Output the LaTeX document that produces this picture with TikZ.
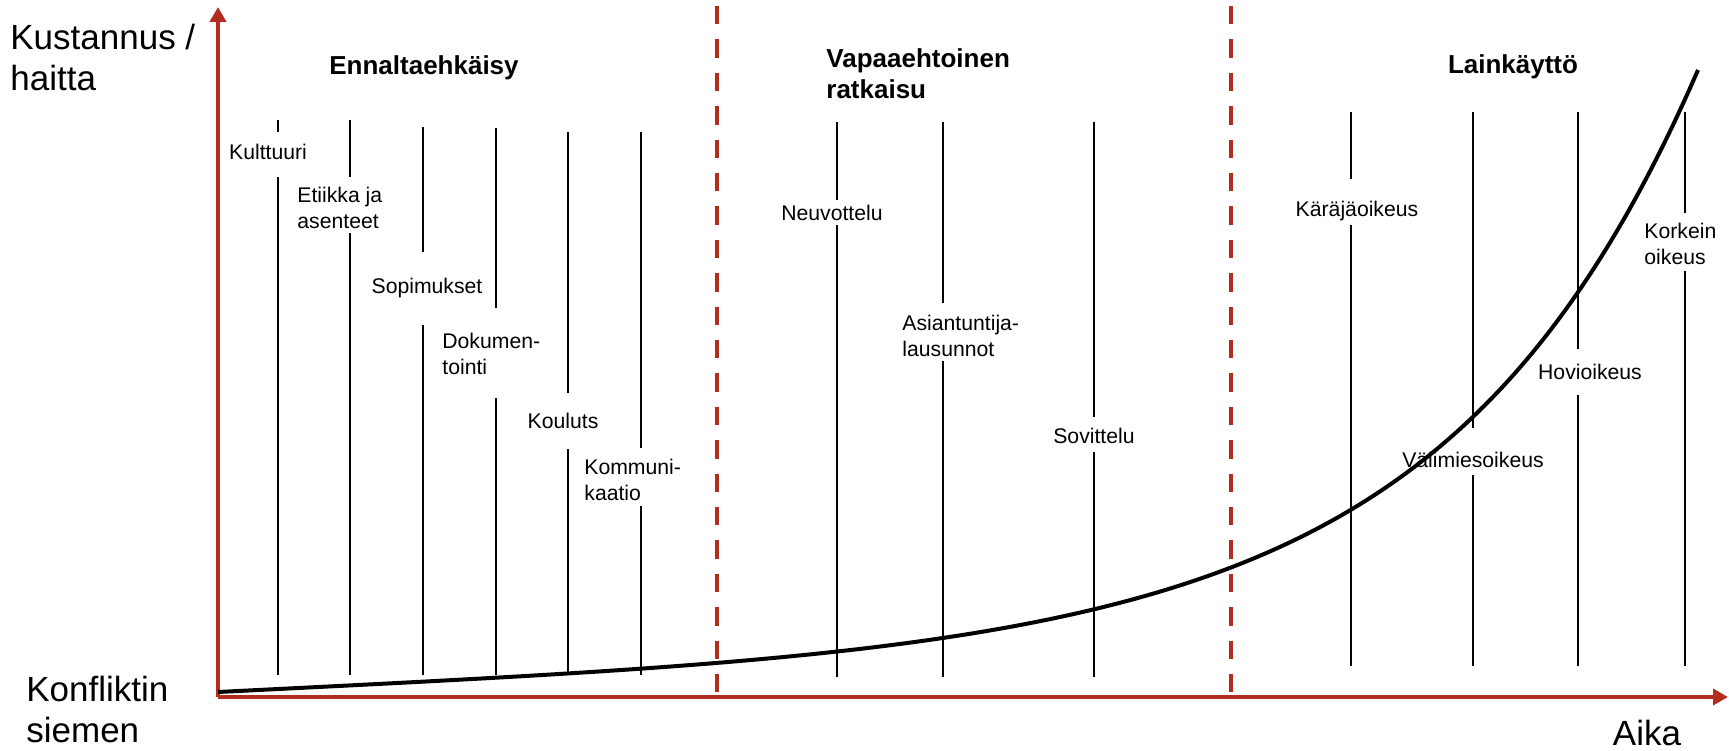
\documentclass[tikz,border=0pt]{standalone}
\usepackage{fontspec}
\setmainfont{Liberation Sans}
\usetikzlibrary{arrows.meta}
\definecolor{tiilenpuna}{RGB}{178,45,30}
\newcommand{\iso}{\fontsize{17.5}{20.5}\selectfont}
\newcommand{\otsikko}{\fontsize{13}{15.5}\selectfont\bfseries}
\newcommand{\pieni}{\fontsize{10.6}{13}\selectfont}

\begin{document}
\begin{tikzpicture}[x=0.5pt,y=-0.5pt,
  akseli/.style={draw=tiilenpuna,line width=2pt,-{Triangle[length=7.5pt,width=8pt]}},
  raja/.style={draw=tiilenpuna,line width=2pt,dash pattern=on 9.2pt off 7.5pt},
  vaihe/.style={draw=black,line width=0.9pt},
  nimi/.style={font=\pieni,inner sep=0pt,align=left},
  kayra/.style={line width=2pt,line join=round}]
\useasboundingbox (0,0) rectangle (1729,750);
\coordinate (o) at (218,697);
\coordinate (ykarki) at (218,7);
\coordinate (xkarki) at (1728,697);
\draw[akseli] (o) -- (ykarki);
\draw[akseli] (o) -- (xkarki);
\draw[raja] (717,6) -- (717,697);
\draw[raja] (1231,6) -- (1231,697);
\node[font=\iso,align=left,anchor=west,inner sep=0pt] (kustannus) at (10,57.5) {Kustannus /\\haitta};
\node[font=\iso,align=left,anchor=west,inner sep=0pt] (siemen) at (26,709) {Konfliktin\\siemen};
\node[font=\iso,inner sep=0pt] (aika) at (1647,733) {Aika};
\node[font=\otsikko,inner sep=0pt] (ennalta) at (424,68) {Ennaltaehkäisy};
\node[font=\otsikko,align=left,anchor=west,inner sep=0pt] (vapaa) at (826,73.5) {Vapaaehtoinen\\ratkaisu};
\node[font=\otsikko,inner sep=0pt] (laki) at (1513,67) {Lainkäyttö};
\foreach \x/\a/\b/\c/\d in {278/120/132/177/675, 350/120/177/233/675,
    423/127/252/325/675, 496/128/308/398/675, 568/132/393/449/675,
    641/132/448/506/675, 837/122/200/225/677, 943/122/303/361/677,
    1094/122/417/452/677, 1351/112/179/225/666, 1473/112/428/475/666,
    1578/112/349/395/666, 1685/112/213/271/666}
  \draw[vaihe] (\x,\a) -- (\x,\b) (\x,\c) -- (\x,\d);
\node[nimi] (kulttuuri) at (268,152) {Kulttuuri};
\node[nimi,anchor=west] (etiikka) at (297,208) {Etiikka ja\\asenteet};
\node[nimi] (sopimukset) at (427,288) {Sopimukset};
\node[nimi,anchor=west] (dokumentointi) at (442,353.5) {Dokumen-\\tointi};
\node[nimi] (kouluts) at (563,421) {Kouluts};
\node[nimi,anchor=west] (kommunikaatio) at (584,479.5) {Kommuni-\\kaatio};
\node[nimi] (neuvottelu) at (832,213) {Neuvottelu};
\node[nimi,anchor=west] (asiantuntija) at (902,335.5) {Asiantuntija-\\lausunnot};
\node[nimi] (sovittelu) at (1094,436) {Sovittelu};
\node[nimi] (karajaoikeus) at (1357,211) {Käräjäoikeus};
\node[nimi] (valimiesoikeus) at (1473,460) {Välimiesoikeus};
\node[nimi] (hovioikeus) at (1590,372) {Hovioikeus};
\node[nimi,anchor=west] (korkein) at (1644,244) {Korkein\\oikeus};
\coordinate (alku) at (218,692);
\coordinate (loppu) at (1698,70);
\draw[kayra] (alku) .. controls (1118,647) and (1450,640) .. (loppu);
\end{tikzpicture}
\end{document}
